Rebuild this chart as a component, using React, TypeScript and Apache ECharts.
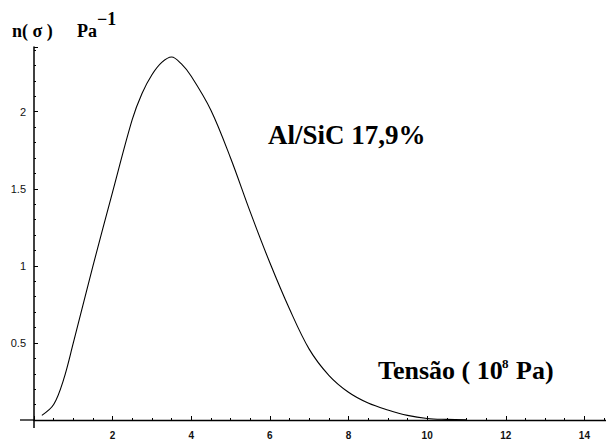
import React, { useEffect, useRef } from "react";
import * as echarts from "echarts";

const stress = [0.2, 0.5, 0.75, 1.0, 1.5, 2.0, 2.5, 2.75, 3.0, 3.25, 3.5, 3.75, 4.0, 4.5, 5.0, 5.5, 6.0, 6.5, 7.0, 7.5, 8.0, 8.5, 9.0, 9.5, 10.0, 10.5, 11.0];
const density = [0.03, 0.1, 0.26, 0.5, 1.0, 1.48, 1.95, 2.12, 2.24, 2.32, 2.355, 2.31, 2.23, 2.01, 1.7, 1.35, 1.02, 0.72, 0.46, 0.29, 0.18, 0.11, 0.065, 0.03, 0.01, 0.004, 0.001];
const xTicks = [2, 4, 6, 8, 10, 12, 14];
const yTicks = [0.5, 1, 1.5, 2];

export default function App() {
  const ref = useRef<HTMLDivElement>(null);
  useEffect(() => {
    const chart = echarts.init(ref.current!, null, { renderer: "svg" });
    const sans = "Liberation Sans";
    const txt = (text: string, left: number, top: number, size: number) => ({
      type: "text",
      left,
      top,
      style: { text, fontFamily: "Liberation Serif", fontWeight: 700, fontSize: size, fill: "#000" },
    });
    chart.setOption({
      animation: false,
      backgroundColor: "#fff",
      grid: { left: 34, right: 0, top: 47, bottom: 23, containLabel: false },
      xAxis: {
        type: "value",
        min: 0,
        max: 14.55,
        interval: 2,
        axisLine: { show: true, lineStyle: { color: "#000", width: 1.3 } },
        axisTick: { show: true, inside: true, length: 4, lineStyle: { color: "#000" } },
        minorTick: { show: true, splitNumber: 4, length: 2, lineStyle: { color: "#000" } },
        splitLine: { show: false },
        axisLabel: {
          showMinLabel: false,
          showMaxLabel: false,
          margin: 10,
          color: "#111",
          fontSize: 10,
          fontWeight: "bold",
          fontFamily: sans,
          formatter: (v: number) => (xTicks.includes(v) ? String(v) : ""),
        },
      },
      yAxis: {
        type: "value",
        min: 0,
        max: 2.42,
        interval: 0.5,
        axisLine: { show: true, lineStyle: { color: "#000", width: 1.5 } },
        axisTick: { show: true, inside: true, length: 4, lineStyle: { color: "#000" } },
        minorTick: { show: true, splitNumber: 5, length: 2, lineStyle: { color: "#000" } },
        splitLine: { show: false },
        axisLabel: {
          showMinLabel: false,
          showMaxLabel: false,
          margin: 8,
          color: "#111",
          fontSize: 11,
          fontFamily: sans,
          formatter: (v: number) => (yTicks.includes(v) ? String(v) : ""),
        },
      },
      series: [
        {
          type: "line",
          data: stress.map((s, i) => [s, density[i]]),
          smooth: 0.35,
          showSymbol: false,
          lineStyle: { color: "#000", width: 1.1 },
        },
      ],
      graphic: [
        { type: "line", shape: { x1: 20, y1: 420, x2: 34, y2: 420 }, style: { stroke: "#000", lineWidth: 1.3 } },
        { type: "line", shape: { x1: 34, y1: 420, x2: 34, y2: 428 }, style: { stroke: "#000", lineWidth: 1.5 } },
        txt("n( σ )", 12, 22, 18),
        txt("Pa", 77, 22, 18),
        txt("−1", 97, 10, 18),
        txt("Al/SiC 17,9%", 268, 121, 27),
        txt("Tensão ( 10", 378, 357, 26),
        txt("8", 502, 357, 13),
        txt("Pa)", 516, 357, 26),
      ],
    });
    return () => chart.dispose();
  }, []);
  return <div ref={ref} style={{ width: 606, height: 443, position: "absolute", left: 0, top: 0 }} />;
}
